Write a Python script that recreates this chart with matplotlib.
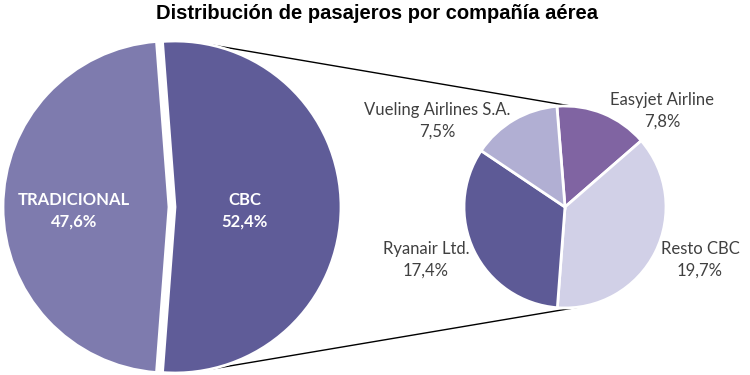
import matplotlib.pyplot as plt
import numpy as np

# datos
main_labels = ['CBC', 'TRADICIONAL']
main_values = [52.4, 47.6]
main_colors = ['#5f5c98', '#7e7bae']

sub_labels = ['Easyjet Airline', 'Resto CBC', 'Ryanair Ltd.', 'Vueling Airlines S.A.']
sub_values = [7.8, 19.7, 17.4, 7.5]
sub_colors = ['#8064a2', '#d1d0e7', '#5d5a96', '#b1afd3']

title = 'Distribución de pasajeros por compañía aérea'

def pct(v):
    return f'{v:.1f}%'.replace('.', ',')

W, H = 750, 375
fig = plt.figure(figsize=(7.5, 3.75), dpi=100)
ax = fig.add_axes([0, 0, 1, 1])

# pie principal (explode en unidades de datos = px)
c1 = (172, H - 207)
r1 = 166
expl = 3
start1 = 90 + (main_values[0] - 50) / 100 * 360 / 2
ax.pie(main_values, colors=main_colors, startangle=start1, counterclock=False,
       center=c1, radius=r1, explode=[expl, expl],
       wedgeprops=dict(edgecolor='white', linewidth=2), frame=True)

# pie secundario
c2 = (565, H - 207)
r2 = 101
frac0 = sub_values[0] / sum(sub_values) * 360
start2 = 41 + frac0
ax.pie(sub_values, colors=sub_colors, startangle=start2, counterclock=False,
       center=c2, radius=r2,
       wedgeprops=dict(edgecolor='white', linewidth=2), frame=True)
ax.set_xlim(0, W)
ax.set_ylim(0, H)
ax.set_aspect('equal')
ax.axis('off')

# lineas de conexion
for a1, a2 in [(78, 86), (-78, -81.5)]:
    p1 = (c1[0] + expl + r1 * np.cos(np.radians(a1)), c1[1] + r1 * np.sin(np.radians(a1)))
    p2 = (c2[0] + r2 * np.cos(np.radians(a2)), c2[1] + r2 * np.sin(np.radians(a2)))
    ax.plot([p1[0], p2[0]], [p1[1], p2[1]], color='black', lw=1, zorder=0)

# etiquetas
lab_font = ['Lato', 'DejaVu Sans']
ax.text(74, H - 211, f'TRADICIONAL\n{pct(main_values[1])}', color='white', fontsize=12,
        fontweight='bold', ha='center', va='center', family=lab_font, linespacing=1.45)
ax.text(245, H - 211, f'CBC\n{pct(main_values[0])}', color='white', fontsize=12,
        fontweight='bold', ha='center', va='center', family=lab_font, linespacing=1.45)

sub_pos = [(662, 111), (700, 260), (426, 260), (437, 121)]
for lab, v, (x, y) in zip(sub_labels, sub_values, sub_pos):
    ax.text(x, H - y, f'{lab}\n{pct(v)}', color='#404040', fontsize=12,
            ha='center', va='center', family=lab_font, linespacing=1.45)

ax.text(377, H - 19, title, fontsize=14.5, fontweight='bold', ha='center', va='baseline',
        family=['Liberation Sans', 'DejaVu Sans'])

fig.savefig('out.png', dpi=100)
